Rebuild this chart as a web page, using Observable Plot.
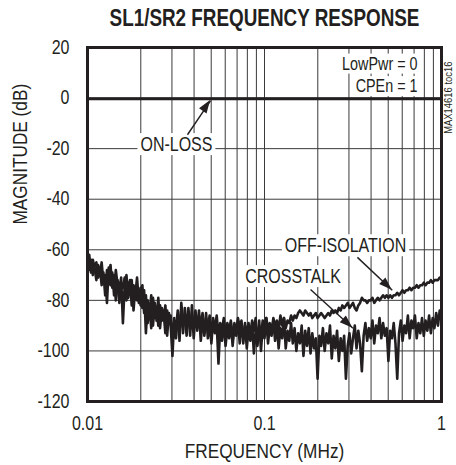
<!DOCTYPE html>
<html><head><meta charset="utf-8">
<script src="https://cdn.jsdelivr.net/npm/d3@7"></script>
<script src="https://cdn.jsdelivr.net/npm/@observablehq/plot@0.6"></script>
<style>body{margin:0;background:#fff}</style>
</head><body><div id="chart"></div>
<script>
// Frequency sample points (MHz)
const freq = [
0.01000,0.01023,0.01047,0.01072,0.01096,0.01122,0.01148,0.01175,0.01202,0.01230,
0.01259,0.01288,0.01318,0.01349,0.01380,0.01413,0.01445,0.01479,0.01514,0.01549,
0.01585,0.01622,0.01660,0.01698,0.01738,0.01778,0.01820,0.01862,0.01905,0.01950,
0.01995,0.02042,0.02089,0.02138,0.02188,0.02239,0.02291,0.02344,0.02399,0.02455,
0.02512,0.02570,0.02630,0.02692,0.02754,0.02818,0.02884,0.02951,0.03020,0.03090,
0.03162,0.03236,0.03311,0.03388,0.03467,0.03548,0.03631,0.03715,0.03802,0.03890,
0.03981,0.04074,0.04169,0.04266,0.04365,0.04467,0.04571,0.04677,0.04786,0.04898,
0.05012,0.05129,0.05248,0.05370,0.05495,0.05623,0.05754,0.05888,0.06026,0.06166,
0.06310,0.06457,0.06607,0.06761,0.06918,0.07079,0.07244,0.07413,0.07586,0.07762,
0.07943,0.08128,0.08318,0.08511,0.08710,0.08913,0.09120,0.09333,0.09550,0.09772,
0.1000,0.1023,0.1047,0.1072,0.1096,0.1122,0.1148,0.1175,0.1202,0.1230,
0.1259,0.1288,0.1318,0.1349,0.1380,0.1413,0.1445,0.1479,0.1514,0.1549,
0.1585,0.1622,0.1660,0.1698,0.1738,0.1778,0.1820,0.1862,0.1905,0.1950,
0.1995,0.2042,0.2089,0.2138,0.2188,0.2239,0.2291,0.2344,0.2399,0.2455,
0.2512,0.2570,0.2630,0.2692,0.2754,0.2818,0.2884,0.2951,0.3020,0.3090,
0.3162,0.3236,0.3311,0.3388,0.3467,0.3548,0.3631,0.3715,0.3802,0.3890,
0.3981,0.4074,0.4169,0.4266,0.4365,0.4467,0.4571,0.4677,0.4786,0.4898,
0.5012,0.5129,0.5248,0.5370,0.5495,0.5623,0.5754,0.5888,0.6026,0.6166,
0.6310,0.6457,0.6607,0.6761,0.6918,0.7079,0.7244,0.7413,0.7586,0.7762,
0.7943,0.8128,0.8318,0.8511,0.8710,0.8913,0.9120,0.9333,0.9550,0.9772,
1.0000];

// CROSSTALK (dB)
const crosstalkDb = [
-63,-68,-64,-70,-66,-65,-71,-67,-74,-69,
-78,-68,-72,-66,-75,-70,-80,-72,-76,-71,
-89,-74,-70,-79,-72,-82,-74,-78,-71,-81,
-75,-83,-76,-93,-80,-86,-78,-90,-81,-88,
-79,-91,-83,-87,-82,-94,-85,-90,-102,-87,
-95,-86,-92,-84,-93,-83,-90,-85,-94,-82,
-95,-86,-91,-84,-96,-88,-93,-85,-95,-89,
-97,-87,-93,-89,-105,-90,-96,-88,-98,-91,
-95,-89,-98,-90,-94,-88,-97,-90,-95,-89,
-99,-91,-96,-89,-101,-92,-97,-88,-100,-90,
-95,-87,-97,-90,-94,-88,-96,-89,-99,-91,
-95,-87,-99,-92,-96,-89,-97,-91,-100,-93,
-97,-90,-102,-92,-98,-91,-101,-93,-99,-95,
-111,-94,-98,-91,-100,-93,-97,-90,-103,-94,
-99,-92,-104,-95,-100,-94,-111,-98,-93,-101,
-95,-90,-99,-92,-97,-108,-94,-89,-96,-91,
-95,-88,-97,-90,-93,-87,-95,-89,-94,-91,
-104,-92,-95,-89,-97,-111,-93,-88,-96,-90,
-93,-86,-95,-88,-91,-86,-95,-89,-93,-87,
-94,-88,-92,-86,-93,-87,-91,-85,-90,-84,
-85];

// OFF-ISOLATION (dB)
const offIsolationDb = [
-65,-62,-69,-64,-67,-72,-66,-70,-65,-73,
-70,-81,-67,-74,-69,-78,-68,-74,-81,-73,
-75,-71,-80,-73,-77,-72,-84,-75,-80,-76,
-82,-74,-85,-78,-89,-82,-91,-79,-87,-83,
-90,-82,-88,-85,-93,-84,-89,-86,-95,-88,
-91,-84,-96,-81,-89,-86,-94,-83,-91,-87,
-89,-84,-92,-86,-90,-85,-94,-87,-91,-86,
-93,-88,-91,-86,-94,-89,-92,-87,-95,-89,
-92,-88,-96,-89,-93,-87,-91,-88,-97,-90,
-93,-89,-95,-88,-92,-87,-98,-90,-94,-88,
-92,-87,-91,-89,-93,-87,-90,-88,-92,-86,
-90,-87,-91,-88,-89,-86,-88,-86,-87,-85,
-84,-85,-86,-84,-85,-86,-85,-87,-86,-85,
-87,-86,-85,-86,-87,-86,-85,-86,-84,-85,
-84,-85,-83,-84,-82,-83,-82,-81,-83,-82,
-81,-83,-84,-82,-81,-79,-80,-80,-81,-80,
-80,-79,-81,-80,-79,-80,-79,-78,-79,-78,
-79,-78,-79,-78,-78,-77,-78,-77,-76,-77,
-76,-76,-75,-76,-75,-75,-74,-75,-74,-74,
-73,-74,-73,-73,-72,-73,-72,-72,-72,-71,
-71];

// ON-LOSS (dB)
const onLossFreq = [0.01, 1];
const onLossDb = [-0.3, -0.3];

// Axes
const xTicks = [0.01, 0.1, 1];
const xTickLabels = ["0.01", "0.1", "1"];
const yTicks = [-120, -100, -80, -60, -40, -20, 0, 20];
const gridFreq = [0.02,0.03,0.04,0.05,0.06,0.07,0.08,0.09,0.1,0.2,0.3,0.4,0.5,0.6,0.7,0.8,0.9];
const gridDb = [-100, -80, -60, -40, -20, 0];

// Annotations
const labelText = ["ON-LOSS", "OFF-ISOLATION", "CROSSTALK"];
const labelFreq = [0.0318, 0.287, 0.145];
const labelDb = [-18.5, -58.5, -70.7];
const arrowFromFreq = [0.0367, 0.335, 0.182];
const arrowFromDb = [-14.5, -63, -75.7];
const arrowToFreq = [0.0496, 0.527, 0.316];
const arrowToDb = [-1.0, -76, -91];
const boxedTexts = ["ON-LOSS", "OFF-ISOLATION", "CROSSTALK", "LowPwr = 0", "CPEn = 1"];

const FONT = "'Liberation Sans', Arial, sans-serif";
const INK = "#231f20";
const NARROW = 0.82;

const crossRows = freq.map((f, i) => ({f, db: crosstalkDb[i]}));
const offRows = freq.map((f, i) => ({f, db: offIsolationDb[i]}));
const onRows = onLossFreq.map((f, i) => ({f, db: onLossDb[i]}));
const labels = labelText.map((t, i) => ({t, f: labelFreq[i], db: labelDb[i]}));
const arrows = labelText.map((t, i) => ({x1: arrowFromFreq[i], y1: arrowFromDb[i], x2: arrowToFreq[i], y2: arrowToDb[i]}));

const plot = Plot.plot({
  width: 456,
  height: 465,
  marginLeft: 87,
  marginRight: 15,
  marginTop: 47,
  marginBottom: 64,
  style: {fontFamily: FONT, fontSize: "19.5px", color: INK, background: "white"},
  x: {type: "log", domain: [0.01, 1]},
  y: {domain: [-120, 20]},
  marks: [
    Plot.ruleX(gridFreq, {stroke: "#3a3a3a", strokeWidth: 1}),
    Plot.ruleY(gridDb, {stroke: "#3a3a3a", strokeWidth: 1}),
    Plot.line(offRows, {x: "f", y: "db", stroke: INK, strokeWidth: 2.6, strokeLinejoin: "round"}),
    Plot.line(crossRows, {x: "f", y: "db", stroke: INK, strokeWidth: 2.6, strokeLinejoin: "round"}),
    Plot.line(onRows, {x: "f", y: "db", stroke: INK, strokeWidth: 3}),
    Plot.text(labels, {x: "f", y: "db", text: "t", fill: INK, fontSize: 19.5, lineAnchor: "middle"}),
    Plot.link(arrows, {x1: "x1", y1: "y1", x2: "x2", y2: "y2", stroke: INK, strokeWidth: 1.4}),
    Plot.text(["LowPwr = 0"], {frameAnchor: "top-right", dx: -24, dy: 16.5, textAnchor: "end", lineAnchor: "middle", fill: INK, fontSize: 17.5}),
    Plot.text(["CPEn = 1"], {frameAnchor: "top-right", dx: -24, dy: 39, textAnchor: "end", lineAnchor: "middle", fill: INK, fontSize: 17.5}),
    Plot.text(["MAX14616 toc16"], {frameAnchor: "top-right", dx: 7, dy: 14, rotate: -90, lineAnchor: "middle", fill: INK, fontSize: 11.5}),
    Plot.text(["SL1/SR2 FREQUENCY RESPONSE"], {frameAnchor: "top", dy: -28.5, lineAnchor: "middle", fontWeight: "bold", fill: INK, fontSize: 23}),
    Plot.text(["FREQUENCY (MHz)"], {frameAnchor: "bottom", dy: 50, lineAnchor: "middle", fill: INK, fontSize: 21}),
    Plot.text(["MAGNITUDE (dB)"], {frameAnchor: "left", dx: -67, rotate: -90, lineAnchor: "middle", fill: INK, fontSize: 21}),
    Plot.frame({stroke: INK, strokeWidth: 3}),
    Plot.axisX(xTicks, {tickSize: 0, tickPadding: 15, tickFormat: d => xTickLabels[xTicks.indexOf(d)], label: null, fontSize: 19.5}),
    Plot.axisY(yTicks, {tickSize: 0, tickPadding: 18, tickFormat: d => String(d), label: null, fontSize: 19.5})
  ]
});

// Filled arrowheads placed through the plot's own scales
const sx = plot.scale("x"), sy = plot.scale("y");
const svg = d3.select(plot);
arrows.forEach(a => {
  const x1 = sx.apply(a.x1), y1 = sy.apply(a.y1), x2 = sx.apply(a.x2), y2 = sy.apply(a.y2);
  const dx = x2 - x1, dy = y2 - y1, len = Math.hypot(dx, dy);
  const ux = dx / len, uy = dy / len, L = 13, W = 4.5;
  const bx = x2 - ux * L, by = y2 - uy * L;
  const pts = [[x2, y2], [bx - uy * W, by + ux * W], [bx + uy * W, by - ux * W]];
  svg.append("polygon").attr("points", pts.map(p => p.join(",")).join(" ")).attr("fill", INK);
});

document.getElementById("chart").appendChild(plot);

// Condense all text horizontally (narrow sans look of the original)
svg.selectAll("text").each(function() {
  const n = this.getComputedTextLength();
  if (n > 0) {
    this.setAttribute("textLength", (n * NARROW).toFixed(2));
    this.setAttribute("lengthAdjust", "spacingAndGlyphs");
  }
});

// White boxes behind the in-plot annotation texts
svg.selectAll("text").each(function() {
  if (!boxedTexts.includes(this.textContent)) return;
  const b = this.getBBox();
  const padX = 3, padY = 0;
  const r = document.createElementNS("http://www.w3.org/2000/svg", "rect");
  r.setAttribute("x", b.x - padX);
  r.setAttribute("y", b.y - padY);
  r.setAttribute("width", b.width + 2 * padX);
  r.setAttribute("height", b.height + 2 * padY);
  r.setAttribute("fill", "white");
  const t = this.getAttribute("transform");
  if (t) r.setAttribute("transform", t);
  this.parentNode.insertBefore(r, this);
});
</script>
</body></html>
